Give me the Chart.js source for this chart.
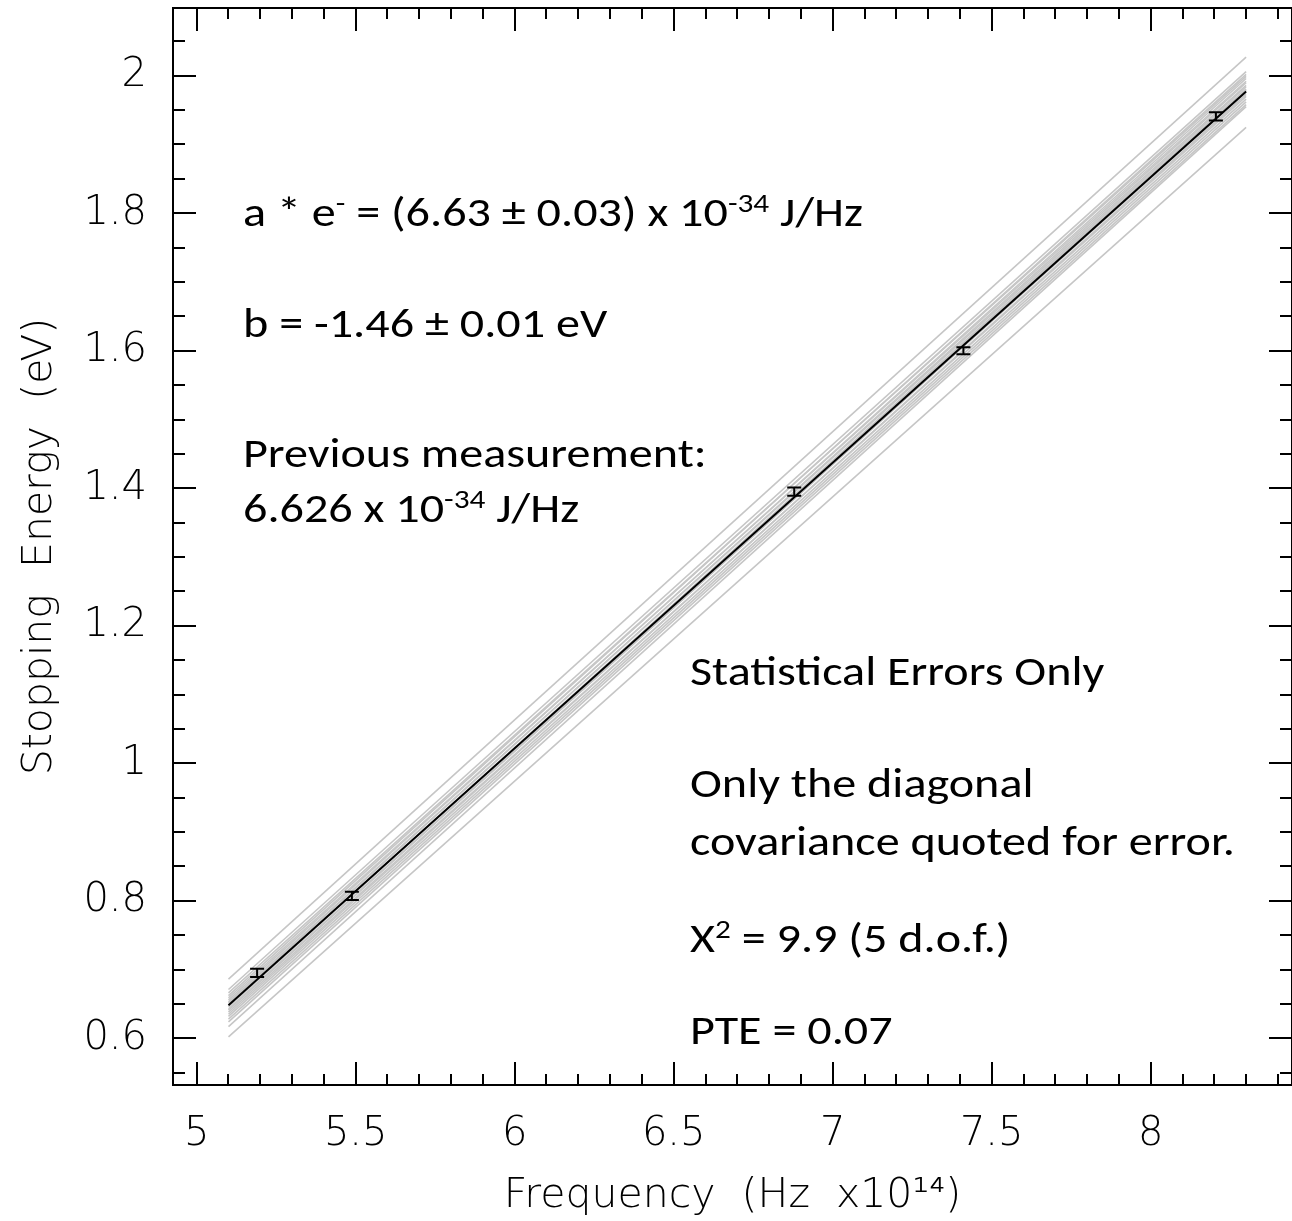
<!DOCTYPE html>
<html>
<head>
<meta charset="utf-8">
<script src="https://cdn.jsdelivr.net/npm/chart.js@4.4.1/dist/chart.umd.min.js"></script>
<style>
  html, body { margin: 0; padding: 0; background: #fff; }
  #wrap { width: 1292px; height: 1221px; }
</style>
</head>
<body>
<div id="wrap"><canvas id="chart" width="1292" height="1221"></canvas></div>
<script>
// Measured stopping energies (eV) vs frequency (x10^14 Hz)
const freq = [5.19, 5.488, 6.879, 7.411, 8.205];
const energy = [0.695, 0.807, 1.395, 1.600, 1.941];
const energyErr = [0.006, 0.006, 0.006, 0.005, 0.006];

// best fit line, evaluated at the two ends
const fitX = [5.1, 8.3];
const fitY = [0.648, 1.977];

// resampled fits (grey bundle): value at fitX[0] and at fitX[1]
const greyStart = [0.686, 0.671, 0.666, 0.662, 0.659, 0.656, 0.653, 0.651, 0.648, 0.646, 0.643, 0.641, 0.638, 0.635, 0.632, 0.628, 0.624, 0.617, 0.602];
const greyEnd   = [2.027, 2.006, 1.999, 2.002, 1.992, 1.996, 1.986, 1.990, 1.981, 1.984, 1.976, 1.979, 1.970, 1.973, 1.966, 1.962, 1.958, 1.955, 1.925];

// axis ticks
const xTicks = [5, 5.5, 6, 6.5, 7, 7.5, 8];
const yTicks = [0.6, 0.8, 1, 1.2, 1.4, 1.6, 1.8, 2];

const AXIS_FONT = { family: "'DejaVu Sans', sans-serif", size: 40, weight: 200, lineHeight: 1.2 };
const TITLE_FONT = { family: "'DejaVu Sans', sans-serif", size: 41, weight: 200, lineHeight: 1.2 };
const NOTE_FONT = "'Carlito', 'Lato', 'Open Sans', sans-serif";
const NOTE_SIZE = 40;

// text notes; [text, isSuperscript]
const notes = [
  { x: 243, y: 226, parts: [['a * e'], ['-', 1], [' = (6.63 ± 0.03) x 10'], ['-34', 1], [' J/Hz']] },
  { x: 243, y: 337, parts: [['b = -1.46 ± 0.01 eV']] },
  { x: 243, y: 467, parts: [['Previous measurement:']] },
  { x: 243, y: 522, parts: [['6.626 x 10'], ['-34', 1], [' J/Hz']] },
  { x: 690, y: 685, parts: [['Statistical Errors Only']] },
  { x: 690, y: 797, parts: [['Only the diagonal']] },
  { x: 690, y: 855, parts: [['covariance quoted for error.']] },
  { x: 690, y: 952, parts: [['X'], ['2', 1], [' = 9.9 (5 d.o.f.)']] },
  { x: 690, y: 1044, parts: [['PTE = 0.07']] }
];

// build datasets (lower order is drawn on top)
const datasets = [];
greyStart.forEach((s, i) => {
  datasets.push({
    data: [{ x: fitX[0], y: s }, { x: fitX[1], y: greyEnd[i] }],
    borderColor: '#c6c6c6',
    borderWidth: 1.6,
    pointRadius: 0,
    showLine: true,
    order: 2
  });
});
datasets.push({
  data: fitX.map((x, i) => ({ x: x, y: fitY[i] })),
  borderColor: '#000',
  borderWidth: 2,
  pointRadius: 0,
  showLine: true,
  order: 1
});
datasets.push({
  data: freq.map((x, i) => ({ x: x, y: energy[i] })),
  pointRadius: 0,
  showLine: false,
  errBars: energyErr,
  order: 0
});

// frame with inward ticks on all sides
const frameTicks = {
  id: 'frameTicks',
  afterDraw(chart) {
    const { ctx, chartArea: a, scales: { x, y } } = chart;
    ctx.save();
    ctx.strokeStyle = '#000';
    ctx.lineWidth = 2;
    ctx.strokeRect(a.left, a.top, a.right - a.left, a.bottom - a.top);
    ctx.beginPath();
    for (let i = Math.ceil(x.min * 10); i <= Math.floor(x.max * 10); i++) {
      const px = Math.round(x.getPixelForValue(i / 10));
      const len = (i % 5 === 0) ? 23 : 11;
      ctx.moveTo(px, a.bottom); ctx.lineTo(px, a.bottom - len);
      ctx.moveTo(px, a.top); ctx.lineTo(px, a.top + len);
    }
    for (let i = Math.ceil(y.min * 20); i <= Math.floor(y.max * 20); i++) {
      const py = Math.round(y.getPixelForValue(i / 20));
      const len = (i % 4 === 0) ? 23 : 12;
      ctx.moveTo(a.left, py); ctx.lineTo(a.left + len, py);
      ctx.moveTo(a.right, py); ctx.lineTo(a.right - len, py);
    }
    ctx.stroke();
    ctx.restore();
  }
};

// error bars for the measured points
const errorBars = {
  id: 'errorBars',
  afterDatasetsDraw(chart) {
    const { ctx, scales: { x, y } } = chart;
    ctx.save();
    ctx.strokeStyle = '#000';
    ctx.lineWidth = 2;
    chart.data.datasets.forEach(ds => {
      if (!ds.errBars) return;
      ds.data.forEach((p, i) => {
        const px = x.getPixelForValue(p.x);
        const top = y.getPixelForValue(p.y + ds.errBars[i]);
        const bot = y.getPixelForValue(p.y - ds.errBars[i]);
        ctx.beginPath();
        ctx.moveTo(px, top); ctx.lineTo(px, bot);
        ctx.moveTo(px - 7, top); ctx.lineTo(px + 7, top);
        ctx.moveTo(px - 7, bot); ctx.lineTo(px + 7, bot);
        ctx.stroke();
      });
    });
    ctx.restore();
  }
};

// annotation text, squeezed to the original's narrow face
const textNotes = {
  id: 'textNotes',
  afterDraw(chart) {
    const ctx = chart.ctx;
    ctx.save();
    ctx.fillStyle = '#000';
    ctx.textBaseline = 'alphabetic';
    ctx.textAlign = 'left';
    ctx.font = NOTE_SIZE + 'px ' + NOTE_FONT;
    const sx = 545 / ctx.measureText('covariance quoted for error.').width;
    notes.forEach(n => {
      ctx.save();
      ctx.translate(n.x, n.y);
      ctx.scale(sx, 1);
      let cx = 0;
      n.parts.forEach(([t, sup]) => {
        const size = sup ? Math.round(NOTE_SIZE * 0.65) : NOTE_SIZE;
        ctx.font = size + 'px ' + NOTE_FONT;
        ctx.fillText(t, cx, sup ? -NOTE_SIZE * 0.36 : 0);
        cx += ctx.measureText(t).width;
      });
      ctx.restore();
    });
    ctx.restore();
  }
};

new Chart(document.getElementById('chart'), {
  type: 'scatter',
  data: { datasets: datasets },
  plugins: [errorBars, frameTicks, textNotes],
  options: {
    responsive: false,
    animation: false,
    devicePixelRatio: 1,
    layout: { padding: { top: 8, right: 0, left: 0, bottom: 0 } },
    plugins: { legend: { display: false }, tooltip: { enabled: false } },
    elements: { line: { tension: 0 } },
    scales: {
      x: {
        type: 'linear',
        min: 4.9255,
        max: 8.4443,
        grid: { display: false, drawTicks: false },
        border: { display: false },
        afterBuildTicks: s => { s.ticks = xTicks.map(v => ({ value: v })); },
        afterFit: s => { s.height = 136; s.paddingLeft = 0; s.paddingRight = 0; },
        ticks: { color: '#000', font: AXIS_FONT, padding: 26, maxRotation: 0, callback: v => String(v) },
        title: { display: true, text: 'Frequency  (Hz  x10¹⁴)', color: '#000', font: TITLE_FONT, padding: { top: 0, bottom: 0 } }
      },
      y: {
        type: 'linear',
        min: 0.5321,
        max: 2.0985,
        grid: { display: false, drawTicks: false },
        border: { display: false },
        afterBuildTicks: s => { s.ticks = yTicks.map(v => ({ value: v })); },
        afterFit: s => { s.width = 173; s.paddingTop = 0; s.paddingBottom = 0; },
        ticks: { color: '#000', font: AXIS_FONT, padding: 26, callback: v => String(v) },
        title: { display: true, text: 'Stopping  Energy  (eV)', color: '#000', font: TITLE_FONT, padding: { top: 16, bottom: 0 } }
      }
    }
  }
});
</script>
</body>
</html>
